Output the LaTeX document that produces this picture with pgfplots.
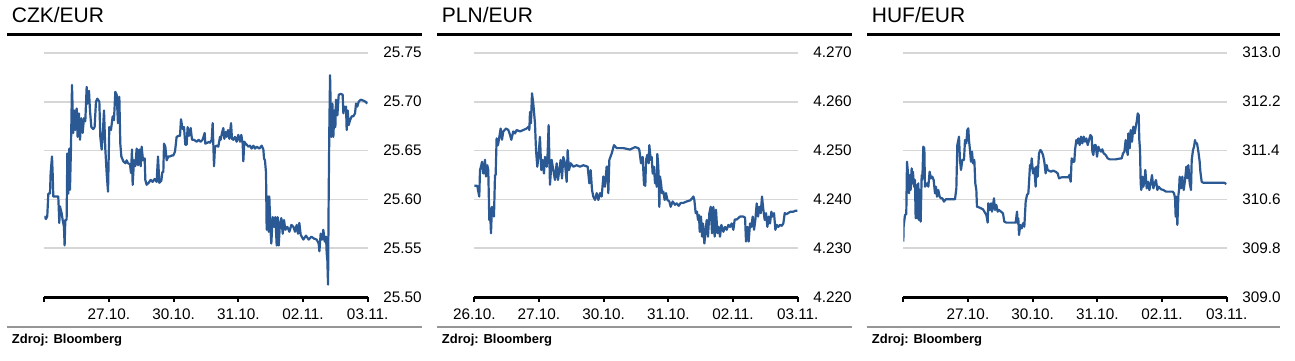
\documentclass[border=0pt]{standalone}
\usepackage{fontspec}
\setmainfont{Liberation Sans}
\usepackage{pgfplots}
\pgfplotsset{compat=1.18}
\definecolor{fxblue}{RGB}{42,89,148}
\definecolor{fxgrid}{RGB}{214,214,214}
\definecolor{fxgray}{RGB}{150,150,150}
\pgfplotsset{fx/.style={
  scale only axis, width=323.4pt, height=244.6pt,
  anchor=south west,
  xmin=0, xmax=5,
  axis x line=bottom, axis y line=right,
  x axis line style={-, black, line width=2.4pt},
  y axis line style={draw=none},
  xtick={0,1,2,3,4,5},
  xtick align=outside, major tick length=4.5pt,
  x tick style={black, line width=2pt},
  y tick style={draw=none},
  ymajorgrids, major grid style={fxgrid, line width=1.9pt},
  tick label style={font=\fontsize{15.3}{18}\selectfont},
  yticklabel style={anchor=west, inner sep=0pt, xshift=13.3pt},
  xticklabel style={anchor=base, inner sep=0pt, yshift=-18pt},
},
fxline/.style={fxblue, line width=2.2pt, line join=round, mark=none}}
\begin{document}
\begin{tikzpicture}
\path[use as bounding box, fill=white] (0pt,0pt) rectangle (1295pt,-360pt);
% headers and footers
\foreach \dx/\t/\r in {0/CZK\slash EUR/421.7, 430/PLN\slash EUR/851.7, 860/HUF\slash EUR/1280}{
  \node[anchor=base west, inner sep=0pt, font=\fontsize{21}{25}\selectfont] at (\dx pt+11.7pt,-22.7pt) {\t};
  \draw[black, line width=2.8pt] (\dx pt+7.3pt,-34.3pt) -- (\r pt,-34.3pt);
  \draw[fxgray, line width=2pt] (\dx pt+7.3pt,-326.7pt) -- (\r pt,-326.7pt);
  \node[anchor=base west, inner sep=0pt, font=\bfseries\fontsize{13}{15}\selectfont] at (\dx pt+11.7pt,-343.5pt) {Zdroj: Bloomberg};
}
% CZK/EUR
\begin{axis}[fx, at={(44.3pt,-297.3pt)},
  ymin=25.50, ymax=25.75,
  ytick={25.50,25.55,25.60,25.65,25.70,25.75},
  yticklabels={25.50,25.55,25.60,25.65,25.70,25.75},
  xticklabels={{},27.10.,30.10.,31.10.,02.11.,03.11.}]
\addplot[fxline] coordinates {(0,25.583)(0.026,25.580)(0.046,25.583)(0.062,25.606)(0.088,25.606)(0.098,25.627)(0.119,25.644)(0.129,25.627)(0.139,25.603)(0.216,25.603)(0.232,25.576)(0.242,25.593)(0.268,25.586)(0.284,25.579)(0.304,25.572)(0.314,25.553)(0.325,25.579)(0.345,25.579)(0.356,25.647)(0.371,25.606)(0.387,25.652)(0.397,25.610)(0.412,25.652)(0.428,25.717)(0.448,25.668)(0.464,25.691)(0.479,25.671)(0.500,25.693)(0.515,25.664)(0.536,25.688)(0.552,25.661)(0.572,25.683)(0.593,25.668)(0.613,25.683)(0.634,25.680)(0.655,25.715)(0.670,25.698)(0.691,25.711)(0.706,25.691)(0.727,25.674)(0.758,25.672)(0.778,25.674)(0.799,25.700)(0.820,25.703)(0.851,25.700)(0.866,25.664)(0.887,25.651)(0.902,25.664)(0.923,25.691)(0.943,25.652)(0.964,25.627)(0.985,25.608)(1.005,25.674)(1.031,25.671)(1.057,25.685)(1.077,25.681)(1.098,25.710)(1.119,25.707)(1.139,25.678)(1.160,25.705)(1.175,25.657)(1.191,25.644)(1.222,25.639)(1.253,25.637)(1.273,25.640)(1.294,25.637)(1.325,25.636)(1.340,25.627)(1.356,25.651)(1.366,25.615)(1.387,25.640)(1.407,25.634)(1.428,25.652)(1.448,25.635)(1.469,25.651)(1.490,25.634)(1.505,25.654)(1.526,25.640)(1.552,25.642)(1.562,25.620)(1.582,25.615)(1.613,25.617)(1.644,25.620)(1.675,25.618)(1.706,25.621)(1.737,25.618)(1.758,25.644)(1.778,25.617)(1.809,25.619)(1.825,25.628)(1.840,25.628)(1.851,25.657)(1.871,25.654)(1.892,25.640)(1.918,25.644)(1.943,25.644)(1.974,25.645)(1.995,25.645)(2.021,25.649)(2.046,25.664)(2.077,25.665)(2.098,25.665)(2.113,25.682)(2.139,25.672)(2.160,25.674)(2.180,25.656)(2.201,25.656)(2.216,25.674)(2.237,25.665)(2.263,25.673)(2.284,25.661)(2.314,25.661)(2.356,25.659)(2.387,25.661)(2.418,25.659)(2.448,25.661)(2.479,25.668)(2.490,25.657)(2.552,25.659)(2.562,25.658)(2.588,25.661)(2.603,25.678)(2.613,25.657)(2.624,25.634)(2.639,25.654)(2.665,25.655)(2.691,25.654)(2.716,25.664)(2.727,25.661)(2.747,25.668)(2.768,25.673)(2.784,25.662)(2.804,25.669)(2.820,25.664)(2.840,25.671)(2.861,25.662)(2.887,25.678)(2.902,25.662)(2.923,25.661)(2.948,25.664)(2.974,25.659)(3.000,25.666)(3.026,25.659)(3.046,25.666)(3.067,25.657)(3.077,25.639)(3.093,25.659)(3.113,25.657)(3.129,25.656)(3.155,25.654)(3.180,25.655)(3.206,25.652)(3.232,25.655)(3.258,25.652)(3.284,25.654)(3.325,25.652)(3.361,25.655)(3.387,25.651)(3.397,25.642)(3.412,25.640)(3.428,25.627)(3.438,25.569)(3.459,25.603)(3.469,25.567)(3.479,25.603)(3.495,25.572)(3.510,25.555)(3.531,25.582)(3.552,25.572)(3.572,25.582)(3.593,25.553)(3.608,25.582)(3.624,25.553)(3.644,25.576)(3.665,25.581)(3.686,25.565)(3.706,25.579)(3.727,25.569)(3.758,25.572)(3.789,25.567)(3.820,25.574)(3.851,25.572)(3.876,25.567)(3.902,25.574)(3.923,25.565)(3.943,25.576)(3.964,25.564)(4.005,25.559)(4.046,25.563)(4.088,25.559)(4.129,25.562)(4.170,25.560)(4.211,25.559)(4.242,25.555)(4.253,25.547)(4.273,25.565)(4.294,25.559)(4.314,25.569)(4.335,25.557)(4.356,25.562)(4.366,25.545)(4.376,25.538)(4.387,25.513)(4.397,25.606)(4.407,25.674)(4.418,25.727)(4.438,25.664)(4.454,25.698)(4.469,25.664)(4.485,25.691)(4.500,25.674)(4.510,25.702)(4.531,25.686)(4.552,25.707)(4.582,25.708)(4.613,25.707)(4.624,25.688)(4.639,25.695)(4.655,25.691)(4.665,25.695)(4.675,25.671)(4.691,25.691)(4.706,25.676)(4.727,25.681)(4.753,25.685)(4.778,25.685)(4.804,25.688)(4.820,25.698)(4.840,25.695)(4.861,25.700)(4.892,25.702)(4.933,25.701)(4.964,25.700)(4.995,25.698)};
\end{axis}
% PLN/EUR
\begin{axis}[fx, at={(474.3pt,-297.3pt)},
  ymin=4.220, ymax=4.270,
  ytick={4.220,4.230,4.240,4.250,4.260,4.270},
  yticklabels={4.220,4.230,4.240,4.250,4.260,4.270},
  xticklabels={26.10.,27.10.,30.10.,31.10.,02.11.,03.11.}]
\addplot[fxline] coordinates {(0,4.2428)(0.046,4.2428)(0.062,4.2416)(0.077,4.2406)(0.088,4.2460)(0.103,4.2467)(0.119,4.2477)(0.139,4.2453)(0.165,4.2481)(0.180,4.2447)(0.201,4.2470)(0.216,4.2460)(0.232,4.2358)(0.242,4.2382)(0.258,4.2331)(0.273,4.2385)(0.304,4.2365)(0.320,4.2450)(0.330,4.2450)(0.345,4.2525)(0.366,4.2511)(0.387,4.2528)(0.407,4.2545)(0.428,4.2522)(0.448,4.2539)(0.490,4.2545)(0.526,4.2542)(0.552,4.2532)(0.572,4.2522)(0.603,4.2539)(0.629,4.2535)(0.655,4.2542)(0.706,4.2539)(0.758,4.2542)(0.809,4.2545)(0.840,4.2549)(0.851,4.2542)(0.861,4.2579)(0.876,4.2556)(0.892,4.2617)(0.912,4.2596)(0.938,4.2556)(0.954,4.2501)(0.974,4.2467)(0.990,4.2484)(1.015,4.2528)(1.036,4.2460)(1.057,4.2481)(1.077,4.2453)(1.093,4.2487)(1.119,4.2467)(1.134,4.2494)(1.149,4.2552)(1.170,4.2430)(1.196,4.2481)(1.222,4.2460)(1.247,4.2440)(1.273,4.2474)(1.294,4.2440)(1.314,4.2460)(1.335,4.2481)(1.356,4.2443)(1.376,4.2487)(1.402,4.2474)(1.428,4.2436)(1.443,4.2501)(1.464,4.2460)(1.490,4.2474)(1.531,4.2467)(1.582,4.2470)(1.634,4.2467)(1.686,4.2470)(1.753,4.2467)(1.778,4.2433)(1.799,4.2460)(1.820,4.2419)(1.840,4.2406)(1.866,4.2399)(1.892,4.2413)(1.918,4.2399)(1.943,4.2413)(1.969,4.2406)(1.995,4.2447)(2.021,4.2426)(2.046,4.2467)(2.062,4.2467)(2.072,4.2413)(2.088,4.2481)(2.124,4.2494)(2.160,4.2511)(2.201,4.2505)(2.304,4.2505)(2.407,4.2502)(2.485,4.2507)(2.536,4.2505)(2.552,4.2501)(2.577,4.2474)(2.603,4.2487)(2.624,4.2430)(2.644,4.2428)(2.655,4.2481)(2.675,4.2491)(2.696,4.2474)(2.706,4.2511)(2.727,4.2481)(2.742,4.2487)(2.758,4.2453)(2.778,4.2467)(2.794,4.2433)(2.809,4.2447)(2.820,4.2426)(2.830,4.2493)(2.845,4.2467)(2.861,4.2385)(2.871,4.2447)(2.887,4.2433)(2.902,4.2413)(2.923,4.2416)(2.943,4.2399)(2.964,4.2413)(2.985,4.2399)(3.015,4.2396)(3.036,4.2385)(3.067,4.2396)(3.103,4.2389)(3.129,4.2392)(3.160,4.2387)(3.191,4.2393)(3.232,4.2393)(3.284,4.2396)(3.335,4.2398)(3.366,4.2402)(3.387,4.2406)(3.402,4.2399)(3.423,4.2372)(3.443,4.2375)(3.459,4.2358)(3.474,4.2368)(3.485,4.2334)(3.505,4.2365)(3.521,4.2324)(3.536,4.2351)(3.557,4.2310)(3.572,4.2331)(3.593,4.2358)(3.613,4.2324)(3.634,4.2372)(3.655,4.2385)(3.675,4.2331)(3.696,4.2385)(3.716,4.2324)(3.737,4.2379)(3.758,4.2331)(3.778,4.2344)(3.799,4.2324)(3.820,4.2348)(3.851,4.2334)(3.876,4.2344)(3.902,4.2338)(3.928,4.2348)(3.954,4.2344)(3.979,4.2351)(4.005,4.2338)(4.026,4.2359)(4.057,4.2359)(4.108,4.2365)(4.160,4.2365)(4.186,4.2363)(4.201,4.2314)(4.222,4.2344)(4.242,4.2314)(4.263,4.2351)(4.284,4.2344)(4.304,4.2365)(4.325,4.2338)(4.345,4.2358)(4.366,4.2392)(4.387,4.2365)(4.407,4.2385)(4.428,4.2372)(4.448,4.2406)(4.469,4.2379)(4.490,4.2358)(4.510,4.2372)(4.531,4.2344)(4.552,4.2365)(4.572,4.2351)(4.593,4.2375)(4.613,4.2365)(4.634,4.2372)(4.655,4.2338)(4.675,4.2348)(4.701,4.2344)(4.727,4.2348)(4.753,4.2346)(4.778,4.2351)(4.799,4.2372)(4.830,4.2370)(4.861,4.2373)(4.892,4.2375)(4.933,4.2375)(4.964,4.2377)(4.995,4.2377)};
\end{axis}
% HUF/EUR
\begin{axis}[fx, at={(903.3pt,-297.3pt)},
  ymin=309.0, ymax=313.0,
  ytick={309.0,309.8,310.6,311.4,312.2,313.0},
  yticklabels={309.0,309.8,310.6,311.4,312.2,313.0},
  xticklabels={{},27.10.,30.10.,31.10.,02.11.,03.11.}]
\addplot[fxline] coordinates {(0,309.910)(0.005,310.155)(0.026,310.346)(0.046,310.362)(0.057,311.218)(0.077,310.973)(0.088,310.700)(0.103,311.000)(0.113,310.755)(0.129,311.109)(0.139,310.864)(0.149,311.054)(0.165,310.809)(0.180,310.918)(0.191,310.292)(0.201,310.837)(0.216,310.292)(0.232,310.864)(0.242,310.264)(0.253,310.755)(0.268,310.237)(0.284,311.000)(0.294,310.918)(0.309,311.463)(0.325,311.436)(0.335,310.809)(0.356,310.837)(0.371,310.864)(0.387,310.809)(0.407,311.054)(0.428,310.946)(0.448,310.973)(0.469,310.918)(0.490,310.700)(0.505,310.809)(0.521,310.646)(0.541,310.755)(0.562,310.646)(0.582,310.619)(0.603,310.619)(0.629,310.564)(0.655,310.602)(0.706,310.602)(0.758,310.602)(0.799,310.602)(0.820,310.782)(0.835,311.490)(0.861,311.627)(0.876,311.245)(0.892,311.082)(0.912,311.245)(0.938,311.245)(0.954,311.572)(0.974,311.518)(0.990,311.736)(1.005,311.763)(1.015,311.572)(1.031,311.409)(1.046,311.218)(1.062,311.382)(1.077,311.191)(1.098,311.245)(1.113,310.864)(1.129,310.755)(1.139,310.482)(1.170,310.471)(1.201,310.455)(1.232,310.439)(1.263,310.384)(1.284,310.346)(1.304,310.221)(1.314,310.537)(1.335,310.428)(1.356,310.537)(1.371,310.401)(1.387,310.510)(1.402,310.619)(1.418,310.428)(1.438,310.510)(1.459,310.401)(1.479,310.428)(1.510,310.401)(1.541,310.373)(1.562,310.237)(1.593,310.221)(1.634,310.221)(1.686,310.221)(1.737,310.221)(1.758,310.401)(1.768,310.210)(1.778,310.292)(1.789,310.019)(1.809,310.183)(1.830,310.128)(1.851,310.210)(1.871,310.155)(1.892,310.564)(1.912,310.673)(1.933,310.700)(1.943,310.864)(1.959,311.163)(1.974,311.109)(1.985,311.272)(2.005,311.027)(2.026,311.109)(2.046,310.809)(2.057,311.136)(2.077,310.973)(2.098,311.354)(2.119,311.409)(2.139,311.382)(2.160,311.327)(2.180,311.218)(2.201,311.027)(2.216,311.163)(2.232,311.082)(2.253,311.071)(2.284,311.054)(2.314,311.071)(2.356,311.054)(2.387,311.027)(2.407,310.946)(2.448,310.962)(2.490,310.962)(2.531,310.962)(2.552,310.962)(2.567,311.000)(2.588,310.891)(2.603,311.272)(2.624,311.218)(2.644,311.218)(2.655,311.409)(2.675,311.572)(2.691,311.518)(2.706,311.599)(2.727,311.490)(2.747,311.627)(2.768,311.518)(2.789,311.627)(2.809,311.545)(2.830,311.599)(2.851,311.490)(2.871,311.572)(2.892,311.654)(2.912,311.627)(2.923,311.382)(2.938,311.327)(2.954,311.490)(2.974,311.490)(2.995,311.300)(3.015,311.463)(3.036,311.409)(3.057,311.382)(3.077,311.420)(3.098,311.354)(3.129,311.327)(3.160,311.272)(3.191,311.256)(3.232,311.256)(3.284,311.256)(3.335,311.267)(3.376,311.272)(3.397,311.354)(3.418,311.382)(3.438,311.572)(3.454,311.436)(3.469,311.327)(3.479,311.681)(3.500,311.436)(3.515,311.736)(3.536,311.545)(3.557,311.790)(3.577,311.681)(3.598,311.817)(3.613,311.899)(3.624,312.008)(3.639,311.981)(3.649,311.572)(3.660,311.409)(3.670,310.864)(3.680,310.755)(3.696,310.973)(3.711,310.809)(3.727,310.891)(3.742,311.082)(3.763,310.782)(3.784,310.891)(3.804,310.755)(3.825,310.864)(3.845,311.000)(3.866,310.782)(3.887,310.864)(3.907,310.918)(3.928,310.755)(3.948,310.809)(3.985,310.766)(4.021,310.755)(4.062,310.728)(4.113,310.728)(4.165,310.728)(4.186,310.700)(4.201,310.619)(4.211,310.319)(4.222,310.646)(4.237,310.183)(4.253,310.673)(4.263,310.755)(4.273,310.973)(4.294,310.782)(4.314,310.973)(4.335,310.755)(4.356,310.918)(4.376,311.136)(4.397,310.946)(4.407,311.163)(4.428,310.864)(4.448,310.755)(4.459,311.245)(4.479,311.409)(4.495,311.463)(4.510,311.572)(4.521,311.518)(4.541,311.518)(4.562,311.382)(4.582,311.218)(4.593,311.054)(4.613,310.891)(4.634,310.875)(4.675,310.875)(4.778,310.875)(4.881,310.875)(4.959,310.875)(4.995,310.853)};
\end{axis}
\end{tikzpicture}
\end{document}
